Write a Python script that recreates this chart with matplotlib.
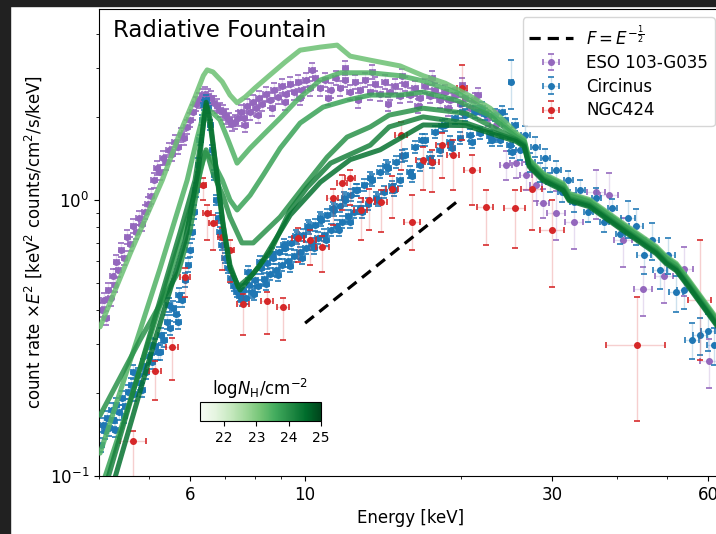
import matplotlib
matplotlib.use("Agg")
import matplotlib.pyplot as plt
import matplotlib.colors as mcolors
from matplotlib.patches import Rectangle
from matplotlib.ticker import FixedLocator, FixedFormatter, NullFormatter

# ---------------- data ----------------
# Circinus (blue)
circ_E = [4.04,4.07,4.11,4.15,4.19,4.23,4.27,4.32,4.38,4.44,4.50,4.56,4.62,4.68,4.75,4.80,4.86,4.93,5.00,5.06,
          5.13,5.20,5.27,5.34,5.42,5.49,5.56,5.64,5.71,5.79,5.87,5.95,6.00,6.05,6.11,6.16,6.22,6.27,6.33,6.38,
          6.44,6.50,6.56,6.62,6.68,6.74,6.80,6.85,6.91,7.00,7.10,7.19,7.29,7.39,7.49,7.59,7.69,7.80,7.90,8.01,
          8.11,8.23,8.34,8.45,8.56,8.67,8.79,8.91,9.03,9.15,9.27,9.40,9.53,9.66,9.78,9.91,10.04,10.18,10.32,10.46,
          10.60,10.75,10.89,11.04,11.2,11.35,11.50,11.66,11.80,11.96,12.12,12.25,12.42,12.59,12.78,13.01,13.24,13.48,13.72,13.96,
          14.21,14.47,14.72,14.98,15.26,15.60,15.95,16.31,16.68,17.05,17.43,17.82,18.23,18.64,19.05,19.48,19.93,20.38,20.83,21.30,
          21.78,22.27,22.77,23.28,23.80,24.34,24.88,25.44,26.02,26.60,27.20,27.81,28.43,29.07,29.73,30.53,31.36,32.21,33.07,33.97,
          35.20,36.47,37.79,39.17,40.58,42.05,43.57,45.15,46.78,48.48,50.24,52.06,53.94,55.89,57.91,60.01,61.62,25.0,
          7.56,7.76,7.97,8.19,8.41,8.64,8.87,9.11,9.36,9.61,9.87,10.13,10.41,10.7,10.99,11.30,11.61,11.91,12.22,12.55,
          12.89,13.36,13.84,14.34,14.85,15.40,16.09,16.83,17.59,18.39,19.22,20.11,21.02,21.97,22.97,24.01,25.10,
          4.30,4.48,4.66,4.84,5.04,5.25,5.46,5.69]
circ_F = [0.130,0.153,0.145,0.162,0.149,0.173,0.160,0.181,0.170,0.192,0.179,0.202,0.214,0.199,0.232,0.218,0.250,0.238,0.272,0.259,
          0.295,0.281,0.324,0.311,0.362,0.344,0.407,0.386,0.453,0.434,0.513,0.582,0.659,0.766,0.905,1.09,1.34,1.65,1.95,2.21,
          2.30,2.16,1.87,1.52,1.23,1.00,0.86,0.766,0.687,0.617,0.567,0.522,0.488,0.463,0.449,0.472,0.442,0.492,0.463,0.513,
          0.488,0.567,0.517,0.593,0.540,0.617,0.558,0.646,0.582,0.670,0.600,0.699,0.626,0.729,0.646,0.747,0.670,0.791,0.693,0.812,
          0.729,0.846,0.747,0.882,0.779,0.920,0.805,0.951,0.832,1.00,0.875,1.04,0.905,1.09,0.935,1.13,0.967,1.18,1.02,1.26,
          1.07,1.31,1.12,1.37,1.18,1.46,1.26,1.56,1.34,1.65,1.42,1.76,1.52,1.87,1.62,1.98,1.68,2.03,1.72,2.08,
          1.75,2.05,1.70,2.03,1.65,1.95,1.58,1.87,1.52,1.72,1.37,1.56,1.26,1.42,1.16,1.28,1.07,1.18,0.983,1.09,
          0.905,1.02,0.832,0.935,0.753,0.860,0.805,0.632,0.716,0.558,0.632,0.463,0.472,0.311,0.324,0.335,0.298,2.68,
          0.434,0.548,0.456,0.596,0.496,0.637,0.535,0.687,0.577,0.741,0.617,0.805,0.670,0.860,0.716,0.935,0.779,1.02,0.832,1.09,
          0.905,1.20,1.00,1.33,1.09,1.44,1.22,1.65,1.37,1.85,1.54,2.08,1.62,2.16,1.65,2.08,1.49,
          0.147,0.165,0.238,0.205,0.298,0.281,0.417,0.362]
circ_relerr = [0.06]*37 + [0.04]*18 + [0.05]*73 + [0.08]*17 + [0.15]*12 + [0.2] + [0.05]*37 + [0.06]*8
circ_relxerr = [0.012]*128 + [0.02]*17 + [0.03]*12 + [0.01] + [0.012]*45

# ESO 103-G035 (purple)
eso_E = [4.06,4.09,4.13,4.17,4.21,4.25,4.29,4.32,4.36,4.42,4.48,4.54,4.60,4.66,4.72,4.78,4.84,4.91,4.97,5.04,
         5.11,5.18,5.25,5.32,5.39,5.46,5.54,5.61,5.69,5.77,5.84,5.92,6.00,6.08,6.16,6.24,6.33,6.41,6.50,6.59,
         6.68,6.77,6.85,6.94,7.03,7.13,7.22,7.32,7.42,7.52,7.62,7.72,7.83,7.93,8.04,8.15,8.26,8.41,8.56,8.71,
         8.87,9.03,9.19,9.36,9.53,9.70,9.87,10.04,10.23,10.46,10.7,10.94,11.2,11.45,11.7,11.96,12.22,12.5,12.78,13.07,
         13.36,13.66,13.96,14.27,14.59,14.92,15.26,15.60,15.95,16.31,16.68,17.05,17.43,17.82,18.23,18.64,19.05,19.48,19.93,20.38,
         20.83,21.30,21.78,22.57,23.38,24.44,25.55,26.72,27.93,28.81,30.53,33.07,36.47,38.65,41.12,44.95,49.35,53.94,60.27,
         7.66,8.11,8.64,9.15,9.78,10.32,11.09,11.96,12.67,13.48,14.47,15.40,16.53,17.59,18.89,20.11,21.58]
eso_F = [0.400,0.434,0.374,0.472,0.441,0.531,0.492,0.596,0.558,0.659,0.617,0.734,0.693,0.805,0.766,0.860,0.818,0.905,0.967,1.03,
         1.18,1.31,1.26,1.42,1.37,1.52,1.47,1.62,1.56,1.72,1.68,1.84,1.95,2.08,2.23,2.30,2.38,2.42,2.38,2.34,
         2.24,2.19,2.12,2.08,2.01,1.95,1.89,1.92,1.98,2.08,1.98,2.19,2.08,2.26,2.15,2.34,2.23,2.42,2.30,2.50,
         2.36,2.59,2.42,2.63,2.46,2.68,2.50,2.72,2.54,2.77,2.54,2.72,2.50,2.77,2.54,2.72,2.46,2.68,2.50,2.72,
         2.46,2.63,2.42,2.68,2.46,2.59,2.38,2.63,2.40,2.54,2.34,2.59,2.38,2.50,2.30,2.46,2.30,2.40,2.23,2.34,
         2.15,2.30,2.08,1.98,1.87,1.34,1.36,1.23,1.13,0.975,0.897,0.833,1.07,1.04,0.716,0.476,0.531,0.563,0.261,
         1.87,2.03,2.15,2.26,2.34,2.96,2.34,3.01,2.30,2.91,2.23,2.82,2.19,2.77,2.15,2.61,2.40]
eso_relerr = [0.06]*104 + [0.12]*6 + [0.2]*9 + [0.06]*17
eso_relxerr = [0.012]*104 + [0.025]*6 + [0.04]*9 + [0.012]*17

# NGC424 (red)
red_E = [4.66,5.13,5.54,5.87,6.36,6.47,6.65,6.91,7.16,7.59,8.45,9.07,9.70,10.23,10.8,11.3,11.8,12.2,12.8,13.3,
         14.0,14.7,15.3,16.1,16.9,17.6,18.4,19.3,20.1,21.0,22.3,25.4,27.4,30.0,43.8,57.9]
red_F = [0.134,0.240,0.294,0.526,1.13,0.897,0.825,0.734,0.659,0.421,0.431,0.410,0.729,0.716,0.675,1.02,1.15,1.20,0.920,1.00,
         0.983,1.10,1.72,0.832,1.40,1.37,1.58,1.46,2.54,1.28,0.944,0.935,1.10,0.779,0.298,0.434]
red_Fhi = [0.146,0.260,0.317,0.567,1.20,0.959,0.882,0.792,0.716,0.457,0.465,0.441,0.792,0.779,0.740,1.10,1.23,1.28,1.02,1.10,
           1.09,1.22,1.92,1.04,1.55,1.52,1.75,1.65,3.08,1.46,1.09,1.09,1.28,1.00,0.446,0.716]
red_Flo = [0.0985,0.189,0.223,0.446,1.00,0.716,0.659,0.558,0.505,0.324,0.327,0.311,0.596,0.582,0.548,0.812,0.920,0.959,0.716,0.779,
           0.766,0.86,1.28,0.659,1.09,1.07,1.20,1.09,1.65,0.959,0.687,0.669,0.779,0.484,0.158,0.263]
red_xerr = [0.26,0.14,0.15,0.13,0.09,0.12,0.12,0.13,0.13,0.2,0.23,0.25,0.27,0.28,0.3,0.26,0.27,0.28,0.35,0.37,
            0.38,0.4,0.42,0.58,0.55,0.57,0.5,0.52,0.45,0.76,0.8,1.15,1.25,1.6,5.7,3.0]

# Radiative fountain model curves (logNH values and shapes)
model_nh = [23.2, 23.45, 23.7, 23.95, 24.2, 24.45]
modA_E = [4.02,4.60,5.30,5.74,6.13,6.36,6.47,6.64,6.92,7.16,7.39,7.66,8.01,8.56,9.15,9.78,10.7,11.53,11.84,12.22,13.36,15.26,16.90,18.64,20.83,22.77,24.34,25.55]
modA_F = [0.347,0.643,1.18,1.76,2.36,2.82,2.96,2.91,2.68,2.40,2.25,2.36,2.55,2.84,3.16,3.49,3.58,3.64,3.49,3.32,3.21,3.06,2.82,2.65,2.38,2.15,1.92,1.75]
modB_E = [4.02,4.60,5.25,5.92,6.19,6.41,6.61,6.85,7.10,7.39,7.83,8.30,8.95,9.65,10.7,11.7,13.36,15.26,16.90,19.57,22.67,25.55]
modB_F = [0.121,0.263,0.567,1.18,1.68,2.15,2.08,1.95,1.65,1.36,1.54,1.72,1.98,2.30,2.72,2.89,2.89,2.82,2.70,2.46,2.08,1.72]
modC_E = [4.11,4.60,5.25,5.87,6.19,6.41,6.61,6.92,7.16,7.39,7.83,8.30,8.95,9.78,10.83,12.05,13.36,15.26,16.90,19.57,22.67,25.55]
modC_F = [0.0995,0.189,0.417,0.812,1.13,1.49,1.40,1.18,1.00,0.920,1.04,1.23,1.54,1.90,2.17,2.30,2.40,2.40,2.46,2.30,2.03,1.69]
modD_E = [4.02,4.80,5.69,6.00,6.27,6.44,6.64,6.95,7.16,7.55,7.94,8.95,9.91,11.03,12.05,13.36,14.53,16.90,20.46,25.55]
modD_F = [0.166,0.311,0.548,0.779,1.28,1.52,1.25,1.03,0.868,0.699,0.699,0.868,1.11,1.43,1.69,1.84,2.03,2.15,2.06,1.66]
modE_E = [4.17,5.02,5.74,6.13,6.30,6.44,6.58,6.76,6.95,7.16,7.42,7.90,8.56,9.36,10.09,11.2,12.38,13.36,14.53,16.90,20.46,25.55]
modE_F = [0.0995,0.327,0.766,1.18,1.65,2.21,1.79,1.23,0.812,0.582,0.484,0.535,0.648,0.920,1.11,1.36,1.48,1.58,1.84,2.00,1.90,1.65]
modF_E = [4.30,5.13,5.87,6.22,6.36,6.44,6.56,6.70,6.92,7.16,7.49,8.19,9.36,10.7,12.22,13.96,16.90,20.46,25.55]
modF_F = [0.0995,0.311,0.716,1.28,1.87,2.26,1.95,1.40,0.846,0.567,0.472,0.582,0.882,1.16,1.40,1.52,1.87,1.86,1.63]
tail_E = [26.48,27.08,28.82,31.50,32.35,35.37,41.13,47.63,49.79,52.07,55.15,62.18,69.19]
tail_F = [1.609,1.362,1.211,1.115,1.025,0.975,0.798,0.659,0.606,0.572,0.496,0.364,0.263]
tail_spread = [1.03, 1.02, 1.01, 0.99, 0.98, 0.97]

# F = E^{-1/2} guide line (times E^2)
guide_E = [10.0, 20.0]
guide_F = [0.358, 1.013]

# ---------------- figure ----------------
W, H = 716, 534
fig = plt.figure(figsize=(W/100, H/100), dpi=100)
ax = fig.add_axes([99/W, 58/H, (723-99)/W, 467/H])
ax.set_xscale('log')
ax.set_yscale('log')

def draw_err(E, F, yerr, xerr, color, label, z):
    cont = ax.errorbar(E, F, yerr=yerr, xerr=xerr, fmt='o', ms=4, color=color,
                       ecolor=color, elinewidth=1.0, capsize=2.2, capthick=1.3,
                       label=label, zorder=z)
    _, caps, bars = cont.lines
    for c in caps:
        c.set_alpha(0.9)
    for b in bars:
        b.set_alpha(0.22)
    return cont

eso_yerr = [f*r for f, r in zip(eso_F, eso_relerr)]
eso_xerr = [e*r for e, r in zip(eso_E, eso_relxerr)]
circ_yerr = [f*r for f, r in zip(circ_F, circ_relerr)]
circ_xerr = [e*r for e, r in zip(circ_E, circ_relxerr)]
red_yerr = [[f-lo for f, lo in zip(red_F, red_Flo)], [hi-f for f, hi in zip(red_F, red_Fhi)]]

h_eso = draw_err(eso_E, eso_F, eso_yerr, eso_xerr, '#9467bd', 'ESO 103-G035', 2.0)
h_circ = draw_err(circ_E, circ_F, circ_yerr, circ_xerr, '#1f77b4', 'Circinus', 2.1)
h_red = draw_err(red_E, red_F, red_yerr, red_xerr, '#d62728', 'NGC424', 2.2)

cmap = plt.get_cmap('Greens')
norm = mcolors.Normalize(vmin=21.25, vmax=25.0)
heads = [(modA_E, modA_F), (modB_E, modB_F), (modC_E, modC_F),
         (modD_E, modD_F), (modE_E, modE_F), (modF_E, modF_F)]
for (hE, hF), nh, s in zip(heads, model_nh, tail_spread):
    E = list(hE) + tail_E
    F = list(hF) + [v*s for v in tail_F]
    ax.plot(E, F, color=cmap(norm(nh)), lw=3.6, alpha=0.85,
            solid_joinstyle='round', solid_capstyle='round', zorder=3)

h_guide, = ax.plot(guide_E, guide_F, color='black', lw=2.3,
                   linestyle=(0, (3.5, 2.2)), zorder=4,
                   label=r'$F=E^{-\frac{1}{2}}$')

ax.set_xlim(4.0, 64.1)
ax.set_ylim(0.1, 4.92)

ax.xaxis.set_major_locator(FixedLocator([6, 10, 30, 60]))
ax.xaxis.set_major_formatter(FixedFormatter(['6', '10', '30', '60']))
ax.xaxis.set_minor_locator(FixedLocator([4, 5, 7, 8, 9, 20, 40, 50]))
ax.xaxis.set_minor_formatter(NullFormatter())
ax.yaxis.set_major_locator(FixedLocator([0.1, 1.0]))
ax.yaxis.set_major_formatter(FixedFormatter([r'$10^{-1}$', r'$10^{0}$']))
ax.yaxis.set_minor_locator(FixedLocator([0.2, 0.3, 0.4, 0.5, 0.6, 0.7, 0.8, 0.9, 2, 3, 4]))
ax.yaxis.set_minor_formatter(NullFormatter())
ax.tick_params(axis='both', which='major', labelsize=12)

ax.set_xlabel('Energy [keV]', fontsize=12)
ax.set_ylabel(r'count rate $\times E^2$ [keV$^2$ counts/cm$^2$/s/keV]', fontsize=12)

ax.text(0.022, 0.978, 'Radiative Fountain', transform=ax.transAxes,
        fontsize=16.5, va='top', ha='left')

ax.legend(handles=[h_guide, h_eso, h_circ, h_red], loc='upper right', fontsize=12,
          handlelength=2.6, labelspacing=0.35)

# colorbar inset
cax = fig.add_axes([200/W, (H-421)/H, 121/W, 19/H])
sm = plt.cm.ScalarMappable(norm=norm, cmap=cmap)
cb = fig.colorbar(sm, cax=cax, orientation='horizontal', ticks=[22, 23, 24, 25])
cb.ax.tick_params(labelsize=10)
cax.set_title(r'$\mathrm{log}N_\mathrm{H}/\mathrm{cm}^{-2}$', fontsize=12, pad=5)

# dark screenshot frame (left and top)
fig.add_artist(Rectangle((0, 0), 10/W, 1, transform=fig.transFigure,
                         color='#212121', zorder=20))
fig.add_artist(Rectangle((0, 1-6/H), 1, 6/H, transform=fig.transFigure,
                         color='#212121', zorder=20))

fig.savefig('out.png', dpi=100)
